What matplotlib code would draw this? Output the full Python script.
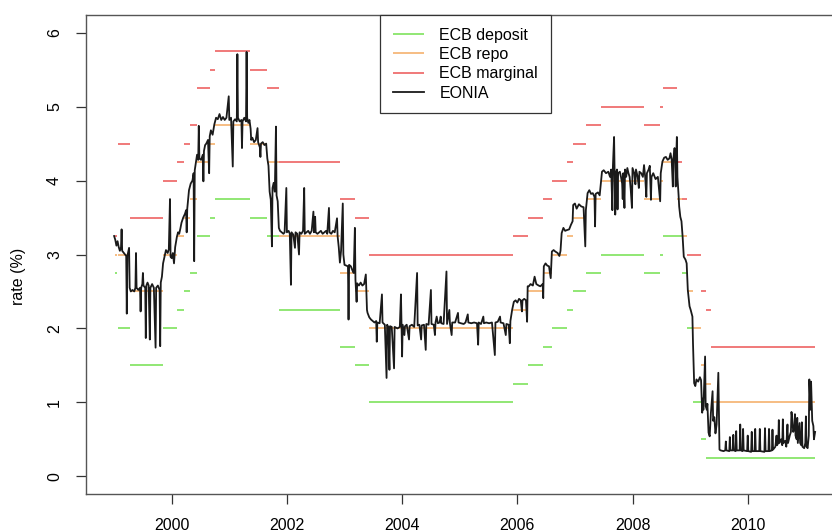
import matplotlib
matplotlib.use("Agg")
import matplotlib.pyplot as plt
import numpy as np

plt.rcParams["font.family"] = ["Liberation Sans", "DejaVu Sans"]

# ECB policy corridor: one row per period, rates hold from start to end (decimal years)
period_start = [1999.00, 1999.01, 1999.06, 1999.27, 1999.845, 2000.09, 2000.21, 2000.32,
                2000.44, 2000.67, 2000.76, 2001.36, 2001.66, 2001.86, 2002.93, 2003.18,
                2003.43, 2005.93, 2006.18, 2006.45, 2006.60, 2006.87, 2006.96, 2007.20,
                2007.46, 2008.20, 2008.47, 2008.53, 2008.77, 2008.775, 2008.86, 2008.94,
                2009.05, 2009.19, 2009.27, 2009.36]
period_end = [1999.005, 1999.055, 1999.27, 1999.845, 2000.09, 2000.21, 2000.32, 2000.44,
              2000.67, 2000.76, 2001.36, 2001.66, 2001.86, 2002.93, 2003.18, 2003.43,
              2005.93, 2006.18, 2006.45, 2006.60, 2006.87, 2006.96, 2007.20, 2007.46,
              2008.20, 2008.47, 2008.53, 2008.77, 2008.775, 2008.86, 2008.94, 2009.05,
              2009.19, 2009.27, 2009.36, 2011.17]
deposit = [2.00, 2.75, 2.00, 1.50, 2.00, 2.25, 2.50, 2.75, 3.25, 3.50, 3.75, 3.50, 3.25,
           2.25, 1.75, 1.50, 1.00, 1.25, 1.50, 1.75, 2.00, 2.25, 2.50, 2.75, 3.00, 2.75,
           3.00, 3.25, 2.75, 3.25, 2.75, 2.00, 1.00, 0.50, 0.25, 0.25]
repo = [3.00, 3.00, 3.00, 2.50, 3.00, 3.25, 3.50, 3.75, 4.25, 4.50, 4.75, 4.50, 4.25,
        3.25, 2.75, 2.50, 2.00, 2.25, 2.50, 2.75, 3.00, 3.25, 3.50, 3.75, 4.00, 3.75,
        4.00, 4.25, 3.75, 3.75, 3.25, 2.50, 2.00, 1.50, 1.25, 1.00]
marginal = [4.50, 3.25, 4.50, 3.50, 4.00, 4.25, 4.50, 4.75, 5.25, 5.50, 5.75, 5.50, 5.25,
            4.25, 3.75, 3.50, 3.00, 3.25, 3.50, 3.75, 4.00, 4.25, 4.50, 4.75, 5.00, 4.75,
            5.00, 5.25, 4.75, 4.25, 3.75, 3.00, 3.00, 2.50, 2.25, 1.75]

# EONIA overnight rate (year, %)
eonia = [
    (1999.00, 3.25), (1999.02, 3.20), (1999.04, 3.12), (1999.06, 3.18), (1999.08, 3.10),
    (1999.10, 3.05), (1999.12, 3.10), (1999.13, 3.34), (1999.14, 3.05), (1999.17, 3.02),
    (1999.19, 3.00), (1999.21, 2.98), (1999.22, 2.20), (1999.23, 2.98), (1999.25, 3.05),
    (1999.26, 3.09), (1999.27, 2.55), (1999.29, 2.50), (1999.32, 2.52), (1999.35, 2.50),
    (1999.37, 2.55), (1999.38, 3.02), (1999.39, 2.55), (1999.42, 2.52), (1999.45, 2.55),
    (1999.46, 2.23), (1999.47, 2.55), (1999.49, 2.60), (1999.50, 2.75), (1999.51, 2.58),
    (1999.54, 2.55), (1999.55, 1.87), (1999.56, 2.58), (1999.58, 2.62), (1999.60, 2.58),
    (1999.62, 1.85), (1999.63, 2.55), (1999.66, 2.60), (1999.69, 2.55), (1999.72, 1.74),
    (1999.73, 2.55), (1999.76, 2.58), (1999.79, 2.52), (1999.80, 1.76), (1999.81, 2.62),
    (1999.83, 2.70), (1999.85, 2.88), (1999.87, 2.95), (1999.90, 3.06), (1999.93, 3.02),
    (1999.95, 3.07), (1999.97, 3.75), (1999.98, 2.97), (2000.00, 2.95), (2000.02, 3.02),
    (2000.04, 2.88), (2000.06, 3.10), (2000.09, 3.24), (2000.11, 3.30), (2000.13, 3.28),
    (2000.15, 3.35), (2000.17, 3.43), (2000.20, 3.50), (2000.23, 3.55), (2000.25, 3.60),
    (2000.26, 3.30), (2000.27, 3.62), (2000.30, 3.87), (2000.33, 3.96), (2000.36, 4.00),
    (2000.38, 4.10), (2000.39, 2.91), (2000.40, 4.14), (2000.42, 4.25), (2000.44, 4.35),
    (2000.46, 4.28), (2000.47, 4.74), (2000.48, 4.30), (2000.51, 4.28), (2000.54, 4.35),
    (2000.55, 3.99), (2000.56, 4.40), (2000.58, 4.48), (2000.60, 4.50), (2000.63, 4.55),
    (2000.65, 4.10), (2000.66, 4.60), (2000.68, 4.68), (2000.71, 4.62), (2000.74, 4.76),
    (2000.77, 4.85), (2000.80, 4.83), (2000.83, 4.90), (2000.86, 4.82), (2000.89, 4.86),
    (2000.92, 4.82), (2000.95, 4.85), (2000.99, 5.14), (2001.00, 4.82), (2001.03, 4.85),
    (2001.06, 4.19), (2001.07, 4.80), (2001.10, 4.83), (2001.13, 4.80), (2001.14, 5.71),
    (2001.15, 4.85), (2001.18, 4.80), (2001.21, 4.82), (2001.22, 4.44), (2001.23, 4.80),
    (2001.26, 4.85), (2001.29, 4.80), (2001.30, 5.74), (2001.31, 4.85), (2001.33, 4.78),
    (2001.35, 4.82), (2001.37, 4.70), (2001.38, 4.55), (2001.40, 4.58), (2001.43, 4.52),
    (2001.46, 4.55), (2001.49, 4.71), (2001.50, 4.52), (2001.53, 4.45), (2001.54, 4.32),
    (2001.55, 4.50), (2001.58, 4.52), (2001.61, 4.48), (2001.64, 4.50), (2001.66, 4.30),
    (2001.68, 4.20), (2001.70, 3.85), (2001.72, 3.74), (2001.74, 3.11), (2001.75, 3.90),
    (2001.77, 3.97), (2001.79, 3.85), (2001.81, 4.73), (2001.82, 3.80), (2001.84, 3.72),
    (2001.86, 3.36), (2001.88, 3.32), (2001.91, 3.30), (2001.94, 3.28), (2001.96, 3.30),
    (2001.99, 3.90), (2002.00, 3.30), (2002.03, 3.32), (2002.05, 3.28), (2002.07, 2.59),
    (2002.08, 3.30), (2002.11, 3.27), (2002.14, 3.09), (2002.15, 3.30), (2002.18, 3.28),
    (2002.21, 3.00), (2002.22, 3.30), (2002.25, 3.28), (2002.28, 3.32), (2002.30, 3.90),
    (2002.31, 3.28), (2002.34, 3.30), (2002.37, 3.32), (2002.40, 3.28), (2002.43, 3.32),
    (2002.46, 3.58), (2002.47, 3.30), (2002.49, 3.51), (2002.50, 3.30), (2002.53, 3.28),
    (2002.56, 3.30), (2002.59, 3.32), (2002.62, 3.28), (2002.65, 3.30), (2002.68, 3.32),
    (2002.70, 3.28), (2002.73, 3.63), (2002.74, 3.30), (2002.77, 3.28), (2002.80, 3.32),
    (2002.83, 3.30), (2002.87, 3.49), (2002.88, 3.25), (2002.90, 3.10), (2002.92, 2.89),
    (2002.94, 3.05), (2002.97, 3.69), (2002.98, 3.00), (2003.00, 2.86), (2003.03, 2.85),
    (2003.06, 2.84), (2003.07, 2.12), (2003.08, 2.86), (2003.11, 2.84), (2003.14, 2.78),
    (2003.16, 2.75), (2003.18, 3.36), (2003.19, 2.66), (2003.21, 2.36), (2003.22, 2.61),
    (2003.25, 2.58), (2003.28, 2.62), (2003.31, 2.58), (2003.34, 2.60), (2003.37, 2.73),
    (2003.39, 2.25), (2003.40, 2.21), (2003.43, 2.15), (2003.46, 2.12), (2003.49, 2.10),
    (2003.52, 2.08), (2003.55, 2.10), (2003.56, 1.82), (2003.57, 2.08), (2003.61, 2.07),
    (2003.65, 2.46), (2003.66, 2.08), (2003.70, 2.05), (2003.73, 1.33), (2003.74, 2.05),
    (2003.76, 2.02), (2003.78, 1.44), (2003.79, 2.03), (2003.82, 2.02), (2003.86, 1.46),
    (2003.87, 2.02), (2003.92, 2.00), (2003.96, 2.02), (2003.98, 2.46), (2003.99, 2.05),
    (2004.00, 1.62), (2004.01, 2.05), (2004.04, 1.91), (2004.05, 2.03), (2004.08, 2.05),
    (2004.12, 1.85), (2004.13, 2.03), (2004.17, 2.05), (2004.21, 2.02), (2004.26, 2.75),
    (2004.27, 2.04), (2004.30, 2.05), (2004.33, 1.85), (2004.34, 2.04), (2004.38, 2.05),
    (2004.41, 1.71), (2004.42, 2.06), (2004.46, 2.05), (2004.50, 2.52), (2004.51, 2.06),
    (2004.55, 2.05), (2004.57, 1.91), (2004.58, 2.08), (2004.60, 2.16), (2004.62, 2.07),
    (2004.65, 2.08), (2004.67, 2.16), (2004.68, 2.07), (2004.72, 2.06), (2004.77, 2.77),
    (2004.78, 2.06), (2004.82, 2.25), (2004.83, 2.07), (2004.86, 1.91), (2004.87, 2.08),
    (2004.92, 2.08), (2004.97, 2.21), (2004.98, 2.08), (2005.02, 2.07), (2005.07, 2.06),
    (2005.10, 2.08), (2005.14, 2.19), (2005.15, 2.08), (2005.20, 2.07), (2005.25, 2.08),
    (2005.30, 2.07), (2005.32, 1.78), (2005.33, 2.08), (2005.37, 2.06), (2005.41, 2.16),
    (2005.42, 2.07), (2005.46, 2.08), (2005.51, 2.07), (2005.56, 2.08), (2005.61, 1.64),
    (2005.62, 2.08), (2005.66, 2.09), (2005.70, 2.16), (2005.71, 2.08), (2005.76, 2.07),
    (2005.80, 1.91), (2005.81, 2.06), (2005.85, 2.05), (2005.87, 1.80), (2005.88, 2.10),
    (2005.91, 2.25), (2005.94, 2.36), (2005.97, 2.38), (2006.00, 2.35), (2006.03, 2.40),
    (2006.06, 2.38), (2006.08, 2.23), (2006.09, 2.38), (2006.12, 2.40), (2006.15, 2.38),
    (2006.17, 2.09), (2006.18, 2.57), (2006.20, 2.57), (2006.23, 2.60), (2006.27, 2.58),
    (2006.30, 2.70), (2006.33, 2.60), (2006.37, 2.58), (2006.40, 2.57), (2006.44, 2.60),
    (2006.45, 2.41), (2006.46, 2.84), (2006.49, 2.88), (2006.52, 2.85), (2006.55, 2.84),
    (2006.58, 2.68), (2006.60, 3.04), (2006.63, 3.06), (2006.66, 3.04), (2006.70, 3.02),
    (2006.73, 2.98), (2006.75, 3.05), (2006.77, 3.29), (2006.80, 3.36), (2006.83, 3.32),
    (2006.86, 3.33), (2006.90, 3.34), (2006.93, 3.40), (2006.96, 3.45), (2006.97, 3.67),
    (2007.00, 3.69), (2007.03, 3.62), (2007.07, 3.68), (2007.11, 3.65), (2007.15, 3.64),
    (2007.18, 3.11), (2007.19, 3.60), (2007.22, 3.83), (2007.25, 3.87), (2007.28, 3.82),
    (2007.31, 3.83), (2007.34, 3.78), (2007.35, 3.38), (2007.36, 3.82), (2007.40, 3.84),
    (2007.43, 3.80), (2007.47, 4.12), (2007.50, 4.14), (2007.54, 4.10), (2007.58, 4.12),
    (2007.61, 4.05), (2007.63, 4.15), (2007.65, 3.60), (2007.66, 4.20), (2007.68, 4.59),
    (2007.69, 4.05), (2007.70, 3.54), (2007.71, 4.10), (2007.73, 4.15), (2007.74, 3.61),
    (2007.75, 4.10), (2007.78, 4.12), (2007.80, 4.05), (2007.82, 3.96), (2007.83, 3.75),
    (2007.84, 4.10), (2007.86, 3.63), (2007.87, 4.15), (2007.89, 4.05), (2007.91, 4.17),
    (2007.93, 4.10), (2007.95, 4.05), (2007.97, 3.87), (2007.99, 3.63), (2008.00, 4.17),
    (2008.03, 4.10), (2008.05, 3.95), (2008.06, 4.15), (2008.09, 4.05), (2008.11, 3.90),
    (2008.12, 4.12), (2008.15, 4.10), (2008.18, 4.05), (2008.20, 4.21), (2008.22, 4.05),
    (2008.24, 3.78), (2008.25, 4.10), (2008.28, 4.15), (2008.30, 4.20), (2008.32, 3.74),
    (2008.33, 4.05), (2008.36, 4.10), (2008.40, 4.02), (2008.44, 4.05), (2008.48, 3.72),
    (2008.49, 4.10), (2008.52, 4.26), (2008.55, 4.31), (2008.58, 4.32), (2008.61, 4.28),
    (2008.64, 4.30), (2008.66, 4.37), (2008.68, 4.28), (2008.70, 3.92), (2008.71, 4.30),
    (2008.73, 4.44), (2008.74, 4.30), (2008.75, 3.92), (2008.76, 4.35), (2008.77, 4.59),
    (2008.78, 4.05), (2008.80, 3.80), (2008.81, 3.65), (2008.83, 3.51), (2008.85, 3.45),
    (2008.87, 3.24), (2008.89, 2.97), (2008.92, 2.93), (2008.94, 2.88), (2008.96, 2.52),
    (2008.99, 2.30), (2009.01, 2.25), (2009.04, 2.16), (2009.05, 1.80), (2009.07, 1.26),
    (2009.09, 1.22), (2009.11, 1.31), (2009.14, 1.28), (2009.17, 1.34), (2009.19, 1.30),
    (2009.21, 0.86), (2009.22, 1.05), (2009.23, 0.90), (2009.26, 1.62), (2009.27, 0.95),
    (2009.29, 0.90), (2009.30, 0.98), (2009.32, 0.59), (2009.34, 0.54), (2009.36, 0.85),
    (2009.39, 1.15), (2009.40, 0.75), (2009.42, 0.80), (2009.44, 0.58), (2009.46, 0.70),
    (2009.49, 1.40), (2009.51, 0.36), (2009.53, 0.35), (2009.58, 0.34), (2009.61, 0.35),
    (2009.62, 0.47), (2009.63, 0.35), (2009.68, 0.34), (2009.69, 0.53), (2009.70, 0.35),
    (2009.74, 0.35), (2009.75, 0.56), (2009.76, 0.35), (2009.79, 0.34), (2009.80, 0.61),
    (2009.81, 0.35), (2009.86, 0.35), (2009.87, 0.70), (2009.88, 0.35), (2009.91, 0.34),
    (2009.92, 0.64), (2009.93, 0.35), (2009.99, 0.34), (2010.00, 0.55), (2010.01, 0.34),
    (2010.06, 0.33), (2010.07, 0.60), (2010.08, 0.34), (2010.12, 0.34), (2010.13, 0.64),
    (2010.14, 0.34), (2010.20, 0.34), (2010.21, 0.64), (2010.22, 0.34), (2010.29, 0.33),
    (2010.30, 0.65), (2010.31, 0.34), (2010.36, 0.34), (2010.37, 0.64), (2010.38, 0.34),
    (2010.42, 0.35), (2010.43, 0.63), (2010.44, 0.36), (2010.48, 0.40), (2010.50, 0.55),
    (2010.51, 0.42), (2010.53, 0.45), (2010.54, 0.76), (2010.55, 0.45), (2010.58, 0.50),
    (2010.60, 0.42), (2010.61, 0.77), (2010.62, 0.45), (2010.65, 0.48), (2010.67, 0.40),
    (2010.69, 0.70), (2010.70, 0.45), (2010.73, 0.55), (2010.75, 0.60), (2010.76, 0.87),
    (2010.77, 0.80), (2010.79, 0.60), (2010.81, 0.65), (2010.82, 0.84), (2010.83, 0.55),
    (2010.85, 0.50), (2010.86, 0.79), (2010.87, 0.45), (2010.90, 0.72), (2010.91, 0.45),
    (2010.93, 0.42), (2010.94, 0.73), (2010.95, 0.40), (2010.98, 0.38), (2011.00, 0.45),
    (2011.01, 0.81), (2011.02, 0.40), (2011.04, 0.38), (2011.06, 0.55), (2011.07, 1.31),
    (2011.08, 1.10), (2011.09, 0.90), (2011.10, 1.28), (2011.12, 0.75), (2011.14, 0.68),
    (2011.15, 0.50), (2011.17, 0.60),
]

year_ticks = [2000, 2002, 2004, 2006, 2008, 2010]
rate_ticks = [0, 1, 2, 3, 4, 5, 6]

FS = 11.5

fig = plt.figure(figsize=(8.32, 5.32), dpi=100)
# plot box runs slightly past the right edge of the canvas
ax = fig.add_axes([86 / 832, 1 - 494 / 532, (845 - 86) / 832, (494 - 15) / 532])

ax.hlines(deposit, period_start, period_end, color="#7ee35c", lw=1.2, label="ECB deposit")
ax.hlines(repo, period_start, period_end, color="#f5b26e", lw=1.2, label="ECB repo")
ax.hlines(marginal, period_start, period_end, color="#ee6262", lw=1.2, label="ECB marginal")
t, r = np.array(eonia).T
ax.plot(t, r, color="#1a1a1a", lw=1.3, label="EONIA")

ax.set_xlim(1998.512, 2011.689)
ax.set_ylim(-0.24, 6.24)
ax.set_xticks(year_ticks)
ax.set_xticklabels([str(y) for y in year_ticks], fontsize=FS)
ax.set_yticks(rate_ticks)
ax.set_yticklabels([str(v) for v in rate_ticks], fontsize=FS, rotation=90, va="center")
ax.tick_params(length=7.2, width=0.9, color="#333333", pad=10)
ax.set_ylabel("rate (%)", fontsize=FS)
ax.yaxis.set_label_coords(-0.079, 0.455)
for s in ax.spines.values():
    s.set_color("#555555")
    s.set_linewidth(1.0)

leg = ax.legend(loc="upper center", borderaxespad=0, fancybox=False, fontsize=FS,
                handlelength=1.95, handletextpad=0.95, labelspacing=0.27,
                borderpad=0.8, framealpha=1)
leg.get_frame().set_edgecolor("#333333")
leg.get_frame().set_linewidth(0.9)

fig.savefig("out.png", dpi=100)
